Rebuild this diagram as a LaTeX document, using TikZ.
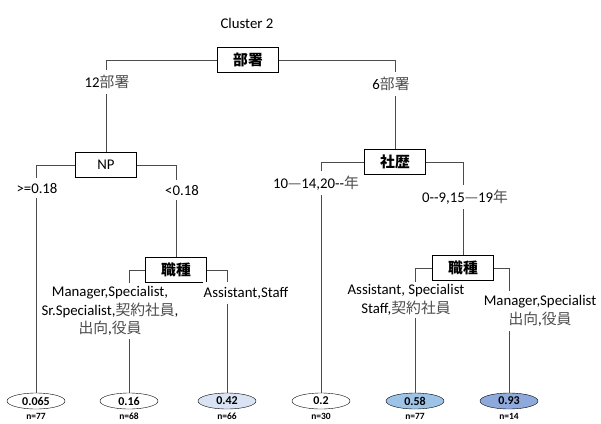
\documentclass[tikz,border=0pt]{standalone}
\usepackage{fontspec}
\setmainfont{Carlito}
\newfontfamily\jpfont{Noto Sans CJK JP}
\usetikzlibrary{shapes.geometric}
\newcommand{\ja}[1]{{\jpfont\color{black!70}#1}}
\newcommand{\jab}[1]{{\jpfont\bfseries #1}}

\begin{document}
\begin{tikzpicture}[x=1pt,y=-1pt,font=\fontsize{14.8}{18.5}\selectfont,
  split/.style={draw,fill=white,minimum width=61pt,minimum height=25pt,inner sep=0pt},
  leaf/.style={ellipse,draw,minimum width=58pt,minimum height=16pt,inner sep=0pt,font=\bfseries\fontsize{12}{12}\selectfont},
  count/.style={font=\bfseries\fontsize{9.5}{10}\selectfont},
  lbl/.style={fill=white,align=center,inner xsep=1pt,inner ysep=5pt},
  edge/.style={draw=black!70,line width=0.6pt}]
	 \useasboundingbox (0,0) rectangle (601,423);
	 \node at (247,23) (title) {Cluster 2};

	 \node at (248,60) [split] (busho) {\jab{部署}};
	 \node at (106,165) [split] (np) {NP};
	 \node at (395,162) [split] (shareki) {\jab{社歴}};
	 \node at (176,270) [split] (shokushu1) {\jab{職種}};
	 \node at (463,268) [split] (shokushu2) {\jab{職種}};

	 \node at (36,401) [leaf] (leafA) {0.065};
	 \node at (129,401) [leaf] (leafB) {0.16};
	 \node at (227,401) [leaf,fill={rgb,255:red,218;green,227;blue,243}] (leafC) {0.42};
	 \node at (321,401) [leaf] (leafD) {0.2};
	 \node at (415,401) [leaf,fill={rgb,255:red,157;green,195;blue,230}] (leafE) {0.58};
	 \node at (509,401) [leaf,fill={rgb,255:red,142;green,169;blue,219}] (leafF) {0.93};

	 \node at (36,416) [count] (nA) {n=77};
	 \node at (129,416) [count] (nB) {n=68};
	 \node at (227,416) [count] (nC) {n=66};
	 \node at (321,416) [count] (nD) {n=30};
	 \node at (415,416) [count] (nE) {n=77};
	 \node at (509,416) [count] (nF) {n=14};

	 % connectors
	 \draw[edge] (busho.west) -| (np.north);
	 \draw[edge] (busho.east) -| (shareki.north);
	 \draw[edge] (np.west) -| (leafA.north);
	 \draw[edge] (np.east) -| (shokushu1.north);
	 \draw[edge] (shokushu1.west) -| (leafB.north);
	 \draw[edge] (shokushu1.east) -| (leafC.north);
	 \draw[edge] (shareki.west) -| (leafD.north);
	 \draw[edge] (shareki.east) -| (shokushu2.north);
	 \draw[edge] (shokushu2.west) -| (leafE.north);
	 \draw[edge] (shokushu2.east) -| (leafF.north);

	 % branch labels
	 \node at (107,82) [lbl] (l12) {12\ja{部署}};
	 \node at (391,84) [lbl] (l6) {6\ja{部署}};
	 \node at (37,188) [lbl] (lge) {>=0.18};
	 \node at (182,190) [lbl] (llt) {<0.18};
	 \node at (316,183) [lbl] (lyrA) {10\ja{—}14,20-{}-\ja{年}};
	 \node at (465,197) [lbl] (lyrB) {0-{}-9,15\ja{—}19\ja{年}};
	 \node at (110,311) [lbl,inner ysep=3pt] (ljobA) {Manager,Specialist,\\Sr.Specialist,\ja{契約社員},\\\ja{出向},\ja{役員}};
	 \node at (246,293) [lbl] (ljobB) {Assistant,Staff};
	 \node at (406,300) [lbl,inner ysep=3pt] (ljobC) {Assistant, Specialist\\Staff,\ja{契約社員}};
	 \node at (540,311) [lbl] (ljobD) {Manager,Specialist\\\ja{出向},\ja{役員}};
\end{tikzpicture}
\end{document}
